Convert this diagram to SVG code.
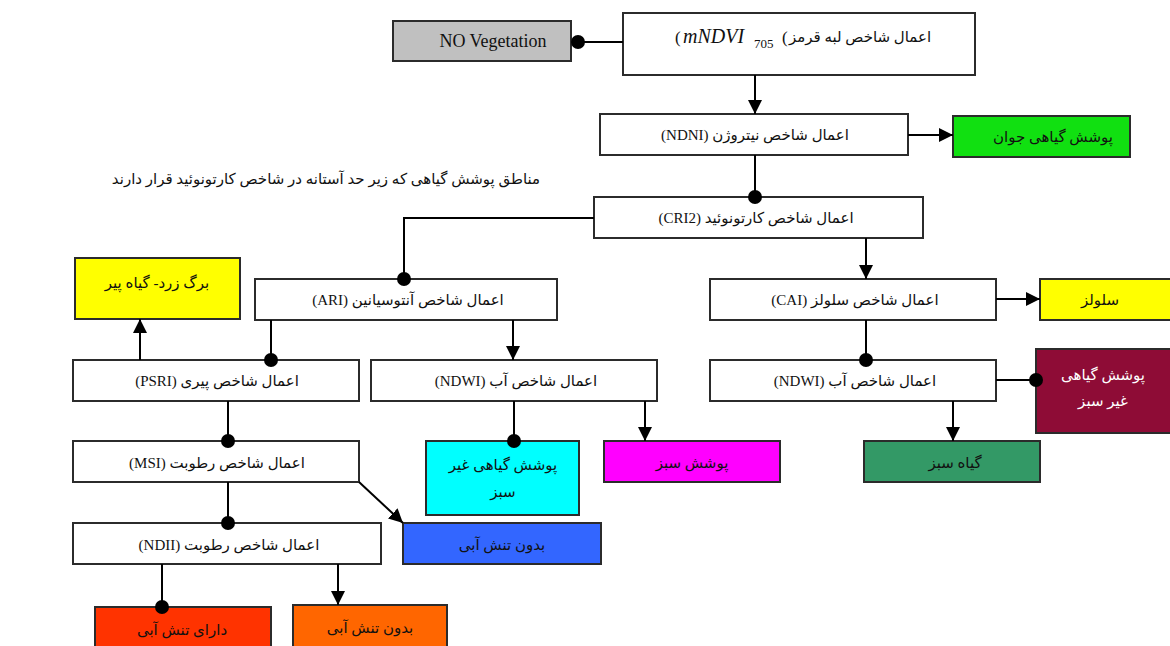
<svg xmlns="http://www.w3.org/2000/svg" width="1170" height="646" viewBox="0 0 1170 646">
<style>
.box{stroke:#2b2b2b;stroke-width:2;fill:#ffffff}
.t{font-family:"Liberation Serif","DejaVu Sans",serif;font-size:15px;fill:#111;text-anchor:middle}
.fa{direction:rtl}
.l{text-anchor:start;direction:ltr}
.c{stroke:#000;stroke-width:2;fill:none}
</style>
<defs>
<marker id="arr" markerUnits="userSpaceOnUse" markerWidth="14" markerHeight="14" refX="12" refY="6" orient="auto" viewBox="0 0 12 12">
<path d="M0,0 L12,6 L0,12 z" fill="#000"/>
</marker>
<marker id="dot" markerUnits="userSpaceOnUse" markerWidth="14" markerHeight="14" refX="6" refY="6" orient="auto" viewBox="0 0 12 12">
<circle cx="6" cy="6" r="6" fill="#000"/>
</marker>
</defs>
<rect width="1170" height="646" fill="#ffffff"/>

<g id="noveg"><rect class="box" x="393" y="21" width="178" height="40" style="fill:#c0c0c0"/><text class="t" x="493" y="47" style="font-size:18px">NO Vegetation</text></g>

<g id="mndvi"><rect class="box" x="623" y="13" width="352" height="62"/>
<text class="t l" x="675" y="43" style="font-size:17px">(</text>
<text class="t l" x="683" y="43" style="font-size:20px;font-style:italic">mNDVI</text>
<text class="t l" x="754" y="48" style="font-size:13px">705</text>
<text class="t l" x="782" y="43" style="font-size:17px">(</text>
<text class="t fa" x="860" y="42">اعمال شاخص لبه قرمز</text></g>

<g id="ndni"><rect class="box" x="600" y="114" width="308" height="41"/><text class="t fa" x="755" y="140">اعمال شاخص نیتروژن (NDNI)</text></g>
<g id="young"><rect class="box" x="953" y="116" width="177" height="41" style="fill:#11e011"/><text class="t fa" x="1053" y="142">پوشش گیاهی جوان</text></g>

<g id="note"><text class="t fa" x="326" y="184">مناطق پوشش گیاهی  که زیر حد آستانه در شاخص کارتونوئید قرار دارند</text></g>

<g id="cri2"><rect class="box" x="594" y="197" width="329" height="41"/><text class="t fa" x="756" y="223">اعمال شاخص کارتونوئید (CRI2)</text></g>
<g id="ari"><rect class="box" x="255" y="279" width="302" height="41"/><text class="t fa" x="408" y="305">اعمال شاخص آنتوسیانین (ARI)</text></g>
<g id="cai"><rect class="box" x="710" y="279" width="286" height="41"/><text class="t fa" x="855" y="305">اعمال شاخص سلولز (CAI)</text></g>
<g id="cellulose"><rect class="box" x="1040" y="279" width="140" height="41" style="fill:#ffff00"/><text class="t fa" x="1100" y="305">سلولز</text></g>
<g id="yellowleaf"><rect class="box" x="75" y="258" width="165" height="61" style="fill:#ffff00"/><text class="t fa" x="157" y="288">برگ زرد- گیاه پیر</text></g>

<g id="psri"><rect class="box" x="73" y="360" width="286" height="41"/><text class="t fa" x="217" y="386">اعمال شاخص پیری (PSRI)</text></g>
<g id="ndwi1"><rect class="box" x="371" y="360" width="286" height="41"/><text class="t fa" x="516" y="386">اعمال شاخص آب (NDWI)</text></g>
<g id="ndwi2"><rect class="box" x="710" y="360" width="286" height="41"/><text class="t fa" x="855" y="386">اعمال شاخص آب (NDWI)</text></g>
<g id="nongreen2"><rect class="box" x="1036" y="349" width="140" height="84" style="fill:#8e0c36"/><text class="t fa" x="1103" y="380" style="fill:#fff">پوشش گیاهی</text><text class="t fa" x="1103" y="406" style="fill:#fff">غیر سبز</text></g>

<g id="msi"><rect class="box" x="73" y="441" width="286" height="41"/><text class="t fa" x="217" y="468">اعمال شاخص رطوبت (MSI)</text></g>
<g id="nongreen1"><rect class="box" x="426" y="441" width="153" height="74" style="fill:#00ffff"/><text class="t fa" x="503" y="470">پوشش گیاهی غیر</text><text class="t fa" x="503" y="497">سبز</text></g>
<g id="greencover"><rect class="box" x="604" y="441" width="176" height="41" style="fill:#ff00ff"/><text class="t fa" x="692" y="468">پوشش سبز</text></g>
<g id="greenplant"><rect class="box" x="864" y="441" width="176" height="41" style="fill:#339966"/><text class="t fa" x="955" y="468">گیاه سبز</text></g>

<g id="nostress1"><rect class="box" x="403" y="523" width="198" height="41" style="fill:#3366ff"/><text class="t fa" x="502" y="550">بدون تنش آبی</text></g>
<g id="ndii"><rect class="box" x="73" y="523" width="308" height="41"/><text class="t fa" x="229" y="550">اعمال شاخص رطوبت (NDII)</text></g>

<g id="stress"><rect class="box" x="95" y="607" width="176" height="45" style="fill:#ff3300"/><text class="t fa" x="182" y="635">دارای تنش آبی</text></g>
<g id="nostress2"><rect class="box" x="293" y="605" width="154" height="45" style="fill:#ff6600"/><text class="t fa" x="370" y="633">بدون تنش آبی</text></g>

<g id="connectors">
<path class="c" d="M623,42 H578" marker-end="url(#dot)"/>
<path class="c" d="M755,75 V114" marker-end="url(#arr)"/>
<path class="c" d="M908,135 H953" marker-end="url(#arr)"/>
<path class="c" d="M755,155 V197" marker-end="url(#dot)"/>
<path class="c" d="M594,218 H404 V279" marker-end="url(#dot)"/>
<path class="c" d="M866,238 V279" marker-end="url(#arr)"/>
<path class="c" d="M271,320 V360" marker-end="url(#dot)"/>
<path class="c" d="M513,320 V360" marker-end="url(#arr)"/>
<path class="c" d="M140,360 V319" marker-end="url(#arr)"/>
<path class="c" d="M514,401 V441" marker-end="url(#dot)"/>
<path class="c" d="M645,401 V441" marker-end="url(#arr)"/>
<path class="c" d="M996,299 H1040" marker-end="url(#arr)"/>
<path class="c" d="M866,320 V360" marker-end="url(#dot)"/>
<path class="c" d="M996,380 H1036" marker-end="url(#dot)"/>
<path class="c" d="M953,401 V441" marker-end="url(#arr)"/>
<path class="c" d="M228,401 V441" marker-end="url(#dot)"/>
<path class="c" d="M359,482 L403,523" marker-end="url(#arr)"/>
<path class="c" d="M228,482 V523" marker-end="url(#dot)"/>
<path class="c" d="M162,564 V607" marker-end="url(#dot)"/>
<path class="c" d="M338,564 V605" marker-end="url(#arr)"/>
</g>
</svg>
